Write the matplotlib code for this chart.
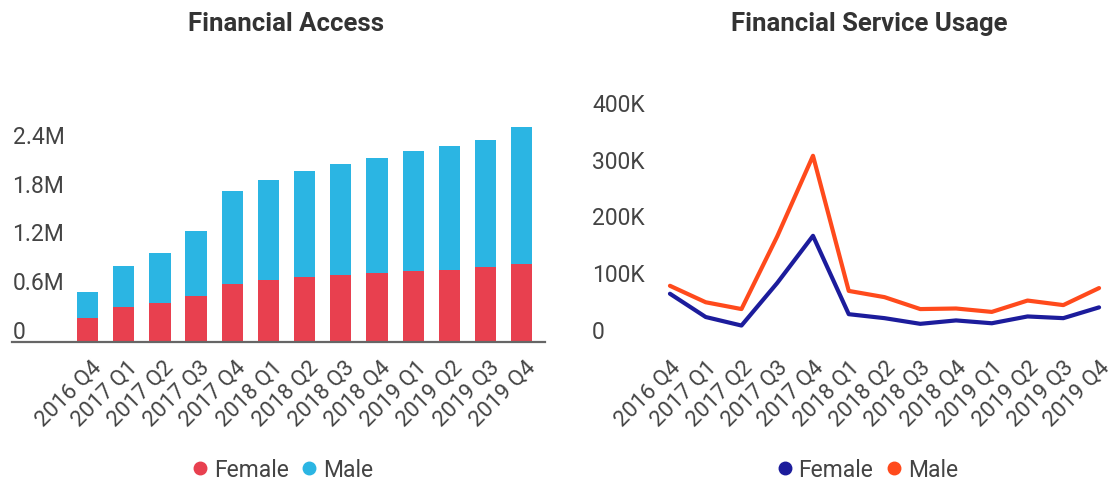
import matplotlib.pyplot as plt
from matplotlib.lines import Line2D
from matplotlib.transforms import ScaledTranslation

plt.rcParams['font.family'] = ['Roboto', 'DejaVu Sans']

quarters = ['2016 Q4', '2017 Q1', '2017 Q2', '2017 Q3', '2017 Q4', '2018 Q1', '2018 Q2',
            '2018 Q3', '2018 Q4', '2019 Q1', '2019 Q2', '2019 Q3', '2019 Q4']

# Financial access, millions of accounts
access_female = [0.30, 0.43, 0.48, 0.56, 0.71, 0.76, 0.80, 0.82, 0.85, 0.87, 0.89, 0.92, 0.96]
access_male = [0.32, 0.51, 0.62, 0.80, 1.15, 1.23, 1.30, 1.37, 1.42, 1.48, 1.52, 1.57, 1.68]
access_ticks = [0, 0.6, 1.2, 1.8, 2.4]
access_labels = ['0', '0.6M', '1.2M', '1.8M', '2.4M']

# Financial service usage, thousands
usage_female = [85, 44, 29, 104, 187, 49, 42, 32, 38, 33, 45, 42, 61]
usage_male = [99, 70, 58, 186, 328, 90, 79, 58, 59, 53, 73, 65, 95]
usage_ticks = [0, 100, 200, 300, 400]
usage_labels = ['0', '100K', '200K', '300K', '400K']

red = '#e8404f'
cyan = '#2bb5e3'
navy = '#1c1c9c'
orange = '#ff4a1c'
text_col = '#444444'
fs = 16.5

W, H = 1118, 485
fig = plt.figure(figsize=(W / 100, H / 100), dpi=100)


def px_axes(x0, x1, y_top, y_bottom):
    return fig.add_axes([x0 / W, 1 - y_bottom / H, (x1 - x0) / W, (y_bottom - y_top) / H])


def style_axes(ax, ticks, labels, label_dx):
    for side in ['top', 'right', 'left', 'bottom']:
        ax.spines[side].set_visible(False)
    ax.set_xticks(range(len(quarters)))
    ax.set_xticklabels(quarters, rotation=45, ha='right', va='top', rotation_mode='anchor',
                       fontsize=16, color=text_col)
    ax.tick_params(axis='x', length=0, pad=10)
    xshift = ScaledTranslation(label_dx, 0, fig.dpi_scale_trans)
    for lbl in ax.get_xticklabels():
        lbl.set_transform(lbl.get_transform() + xshift)
    ax.set_yticks(ticks)
    ax.set_yticklabels(labels, fontsize=fs, color=text_col)
    ax.tick_params(axis='y', length=0, pad=0)
    # labels sit just above their value, inside the plot area
    yshift = ScaledTranslation(0, 0.13, fig.dpi_scale_trans)
    for lbl in ax.get_yticklabels():
        lbl.set_horizontalalignment('left')
        lbl.set_transform(lbl.get_transform() + yshift)


x = list(range(len(quarters)))

# left: stacked bars
ax1 = px_axes(12.5, 544.6, 100, 343)
ax1.bar(x, access_female, width=0.59, color=red)
ax1.bar(x, access_male, width=0.59, bottom=access_female, color=cyan)
ax1.set_xlim(-2.07, 12.63)
ax1.set_ylim(0, 2.99)
style_axes(ax1, access_ticks, access_labels, 0.03)
ax1.spines['bottom'].set_visible(True)
ax1.spines['bottom'].set_color('#666666')
ax1.spines['bottom'].set_linewidth(1.6)

# right: lines
ax2 = px_axes(592, 1108, 100, 343)
ax2.plot(x, usage_female, color=navy, lw=3, solid_joinstyle='round', solid_capstyle='round')
ax2.plot(x, usage_male, color=orange, lw=3, solid_joinstyle='round', solid_capstyle='round')
ax2.set_xlim(-2.18, 12.25)
ax2.set_ylim(0, 428)
style_axes(ax2, usage_ticks, usage_labels, 0.0)

fig.text(286 / W, 1 - 24 / H, 'Financial Access', ha='center', va='center',
         fontsize=18.5, fontweight='bold', color='#333333')
fig.text(869 / W, 1 - 24 / H, 'Financial Service Usage', ha='center', va='center',
         fontsize=18.5, fontweight='bold', color='#333333')


def legend_at(cx, cy, colors):
    handles = [Line2D([], [], ls='none', marker='o', markersize=9, color=c) for c in colors]
    fig.legend(handles, ['Female', 'Male'], loc='center', bbox_to_anchor=(cx / W, 1 - cy / H),
               ncol=2, frameon=False, fontsize=fs, handlelength=0.6, handletextpad=0.3,
               columnspacing=0.6, labelcolor=text_col)


legend_at(283, 471, [red, cyan])
legend_at(868, 471, [navy, orange])

fig.savefig('out.png', dpi=100)
